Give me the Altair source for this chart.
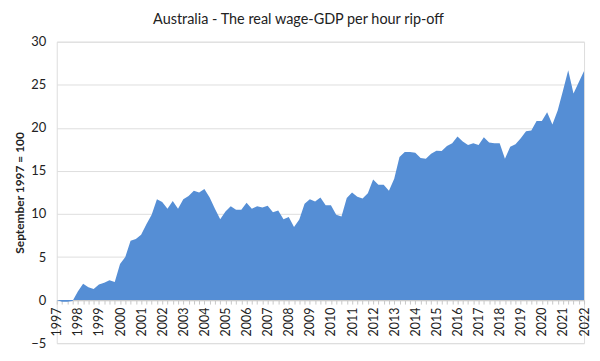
import altair as alt
import pandas as pd

# Quarterly index, September 1997 = 100 (shown as deviation), Sep-1997 .. Sep-2022
values = [
    0.0, -0.2, -0.2, -0.1, 1.0, 1.9, 1.5, 1.3, 1.8, 2.0,
    2.3, 2.1, 4.2, 5.0, 6.9, 7.1, 7.6, 8.8, 9.9, 11.7,
    11.4, 10.6, 11.5, 10.6, 11.7, 12.1, 12.7, 12.5, 12.9, 11.9,
    10.6, 9.4, 10.3, 10.9, 10.5, 10.5, 11.3, 10.6, 10.9, 10.75,
    10.95, 10.2, 10.4, 9.4, 9.65, 8.5, 9.35, 11.2, 11.7, 11.45,
    11.9, 11.0, 11.0, 9.9, 9.7, 11.85, 12.5, 12.0, 11.8, 12.4,
    14.0, 13.4, 13.4, 12.7, 14.1, 16.6, 17.2, 17.2, 17.1, 16.5,
    16.4, 17.0, 17.35, 17.3, 17.9, 18.2, 19.0, 18.4, 18.0, 18.2,
    18.0, 18.9, 18.3, 18.2, 18.2, 16.4, 17.8, 18.1, 18.8, 19.6,
    19.7, 20.8, 20.8, 21.8, 20.4, 22.0, 24.3, 26.7, 24.0, 25.3,
    26.6,
]
start_year = 1997
y_ticks = [-5, 0, 5, 10, 15, 20, 25, 30]

df = pd.DataFrame({"q": list(range(len(values))), "v": values})

W, H = 530, 303
FONT = "Lato"

chart = (
    alt.Chart(df)
    .mark_area(color="#558ed5", opacity=1)
    .encode(
        x=alt.X(
            "q:Q",
            scale=alt.Scale(domain=[0, len(values) - 1], nice=False, zero=False),
            axis=alt.Axis(
                title=None,
                values=list(range(len(values))),
                labelExpr=f"datum.value % 4 == 0 ? toString({start_year} + datum.value / 4) : ''",
                labelAngle=270,
                labelOverlap=False,
                labelFontSize=12.5,
                labelColor="#222222",
                labelFont=FONT,
                labelPadding=3,
                tickSize=4,
                tickColor="#c8c8c8",
                domainColor="#c8c8c8",
                grid=False,
                offset=-H / 7,
            ),
        ),
        y=alt.Y(
            "v:Q",
            scale=alt.Scale(domain=[-5, 30], nice=False),
            axis=alt.Axis(
                title="September 1997 = 100",
                values=y_ticks,
                titleFont=FONT,
                titleFontSize=12,
                titleFontWeight="bold",
                titleColor="#222222",
                titleAngle=270,
                titleAlign="center",
                titleBaseline="middle",
                titleX=-37,
                titleY=H / 2,
                labelFont=FONT,
                labelFontSize=13,
                labelColor="#222222",
                labelPadding=11,
                ticks=False,
                domain=False,
                gridColor="#dedede",
            ),
        ),
        y2=alt.datum(0),
    )
    .properties(
        width=W,
        height=H,
        title=alt.TitleParams(
            "Australia - The real wage-GDP per hour rip-off",
            font=FONT,
            fontSize=14.5,
            fontWeight="normal",
            color="#222222",
            anchor="middle",
            dx=-22,
            offset=8,
        ),
        padding={"left": 49, "top": 33, "right": 8, "bottom": 8},
        autosize=alt.AutoSizeParams(type="none"),
    )
    .configure_view(stroke=None)
    .configure(background="white")
)

chart.save("out.html", embed_options={"renderer": "svg", "actions": False})
